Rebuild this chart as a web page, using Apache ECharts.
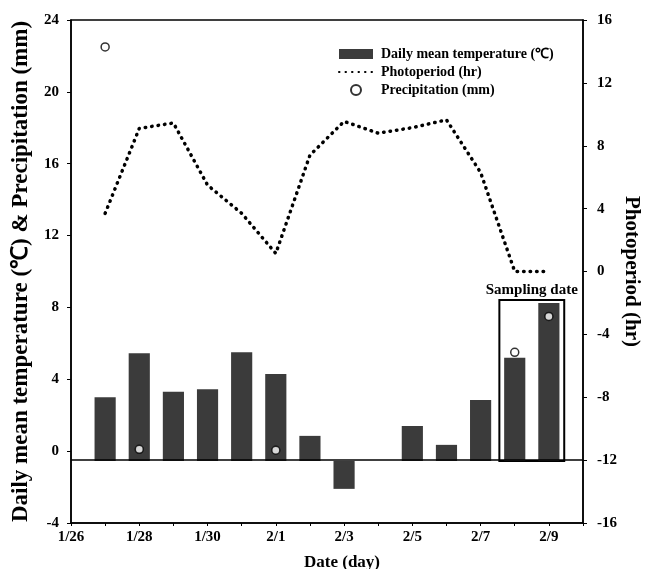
<!DOCTYPE html>
<html>
<head>
<meta charset="utf-8">
<script src="https://cdn.jsdelivr.net/npm/echarts@6/dist/echarts.min.js"></script>
<style>
  html, body { margin: 0; padding: 0; background: #fff; }
  #main { width: 646px; height: 569px; }
</style>
</head>
<body>
<div id="main"></div>
<script>
  // x axis days (1/26 .. 2/10), labels on every 2nd day
  var days = ['1/26', '1/27', '1/28', '1/29', '1/30', '1/31', '2/1', '2/2',
              '2/3', '2/4', '2/5', '2/6', '2/7', '2/8', '2/9', '2/10'];

  // daily mean temperature (℃), 2/4 missing
  var tempDates = ['1/27', '1/28', '1/29', '1/30', '1/31', '2/1', '2/2',
                   '2/3', '2/5', '2/6', '2/7', '2/8', '2/9'];
  var temperature = [3.0, 5.45, 3.3, 3.45, 5.5, 4.3, 0.85, -2.1, 1.4, 0.35, 2.85, 5.2, 8.25];

  // photoperiod (hr), right axis
  var photoDates = ['1/27', '1/28', '1/29', '1/30', '1/31', '2/1', '2/2',
                    '2/3', '2/4', '2/5', '2/6', '2/7', '2/8', '2/9'];
  var photoperiod = [3.7, 9.1, 9.45, 5.5, 3.7, 1.15, 7.4, 9.55, 8.8, 9.15, 9.65, 6.3, 0, 0];

  // precipitation (mm)
  var precipDates = ['1/27', '1/28', '2/1', '2/8', '2/9'];
  var precipitation = [22.5, 0.1, 0.05, 5.5, 7.5];

  var font = "'Liberation Serif', 'Times New Roman', serif";
  var barBase = -0.55;     // bars stand on the line at -12 hr
  var sampFrom = 12.55, sampTo = 14.45, sampTop = 8.42;

  function pairs(dates, vals) {
    var out = [];
    for (var i = 0; i < dates.length; i++) {
      if (vals[i] == null) continue;
      out.push([days.indexOf(dates[i]), vals[i]]);
    }
    return out;
  }

  var myChart = echarts.init(document.getElementById('main'));
  var option = {
    animation: false,
    textStyle: { fontFamily: font },
    grid: {
      left: 71, right: 63, top: 20, bottom: 46,
      containLabel: false, outerBoundsMode: 'none',
      show: true, borderColor: '#000', borderWidth: 1.5
    },
    legend: {
      orient: 'vertical',
      left: 338,
      top: 47,
      padding: 0,
      itemWidth: 34,
      itemHeight: 10,
      itemGap: 4,
      textStyle: { fontFamily: font, fontSize: 14, fontWeight: 'bold', color: '#000', padding: [0, 0, 0, 3] },
      data: [
        { name: 'Daily mean temperature (℃)', icon: 'rect' },
        { name: 'Photoperiod (hr)', itemStyle: { color: 'rgba(0,0,0,0)', borderWidth: 0, opacity: 0 } },
        { name: 'Precipitation (mm)', icon: 'circle' }
      ]
    },
    xAxis: {
      type: 'value',
      min: 0,
      max: 15,
      interval: 1,
      name: 'Date (day)',
      nameLocation: 'middle',
      nameGap: 31,
      nameTextStyle: { fontFamily: font, fontSize: 17, fontWeight: 'bold', color: '#000', padding: [0, 0, 0, 30] },
      axisLine: { onZero: false, lineStyle: { color: '#000', width: 1.5 } },
      axisTick: { length: 3, lineStyle: { color: '#000' } },
      splitLine: { show: false },
      axisLabel: {
        color: '#000', fontSize: 15, fontWeight: 'bold', fontFamily: font, margin: 7,
        formatter: function (v) { return v % 2 === 0 ? days[v] : ''; }
      }
    },
    yAxis: [
      {
        type: 'value',
        min: -4,
        max: 24,
        interval: 4,
        name: 'Daily mean temperature (℃) & Precipitation (mm)',
        nameLocation: 'middle',
        nameGap: 38,
        nameTextStyle: { fontFamily: font, fontSize: 23, fontWeight: 'bold', color: '#000' },
        axisLine: { show: true, lineStyle: { color: '#000', width: 1.5 } },
        axisTick: { show: true, length: 4, lineStyle: { color: '#000' } },
        splitLine: { show: false },
        axisLabel: { color: '#000', fontSize: 15, fontWeight: 'bold', fontFamily: font, margin: 12 }
      },
      {
        type: 'value',
        min: -16,
        max: 16,
        interval: 4,
        name: 'Photoperiod (hr)',
        nameLocation: 'middle',
        nameGap: 38,
        nameMoveOverlap: false,
        nameRotate: -90,
        nameTextStyle: { fontFamily: font, fontSize: 21, fontWeight: 'bold', color: '#000' },
        axisLine: { show: true, lineStyle: { color: '#000', width: 1.5 } },
        axisTick: { show: true, length: 4, lineStyle: { color: '#000' } },
        splitLine: { show: false },
        axisLabel: { color: '#000', fontSize: 15, fontWeight: 'bold', fontFamily: font, margin: 14 }
      }
    ],
    series: [
      {
        name: 'Daily mean temperature (℃)',
        type: 'custom',
        itemStyle: { color: '#3b3b3b' },
        renderItem: function (params, api) {
          var x = api.value(0);
          var top = api.coord([x, api.value(1)]);
          var base = api.coord([x, barBase]);
          var w = api.size([1, 0])[0] * 0.62;
          return {
            type: 'rect',
            shape: { x: top[0] - w / 2, y: Math.min(top[1], base[1]), width: w, height: Math.abs(base[1] - top[1]) },
            style: api.style()
          };
        },
        data: pairs(tempDates, temperature),
        markArea: {
          silent: true,
          itemStyle: { color: 'rgba(0,0,0,0)', borderColor: '#000', borderWidth: 2 },
          label: { show: true, position: 'top', distance: 1, color: '#000', fontFamily: font, fontSize: 15, fontWeight: 'bold' },
          data: [[{ name: 'Sampling date', coord: [sampFrom, sampTop] }, { coord: [sampTo, barBase] }]]
        }
      },
      {
        name: 'Photoperiod (hr)',
        type: 'line',
        yAxisIndex: 1,
        symbol: 'none',
        lineStyle: { color: '#000', width: 3.5, type: [0.5, 6], cap: 'round' },
        itemStyle: { color: '#000' },
        data: pairs(photoDates, photoperiod),
        markLine: {
          silent: true,
          symbol: 'none',
          label: { show: false },
          lineStyle: { color: '#000', width: 1.5, type: 'solid' },
          data: [{ yAxis: -12 }]
        }
      },
      {
        name: 'Precipitation (mm)',
        type: 'scatter',
        symbol: 'circle',
        symbolSize: 8,
        itemStyle: { color: '#fff', borderColor: '#000', borderWidth: 1.5 },
        z: 5,
        data: pairs(precipDates, precipitation)
      }
    ]
  };
  myChart.setOption(option);
</script>
</body>
</html>
